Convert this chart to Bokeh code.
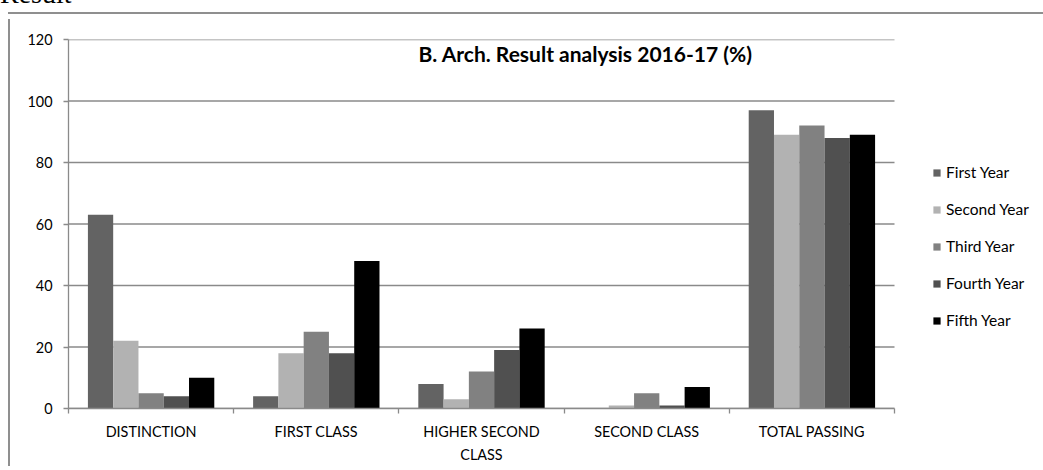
from bokeh.plotting import figure
from bokeh.models import FixedTicker, Legend, LegendItem, Label, Range1d, Div
from bokeh.layouts import column
from bokeh.embed import file_html
from bokeh.resources import INLINE

categories = ["DISTINCTION", "FIRST CLASS", "HIGHER SECOND\nCLASS", "SECOND CLASS", "TOTAL PASSING"]
series_names = ["First Year", "Second Year", "Third Year", "Fourth Year", "Fifth Year"]
first_year = [63, 4, 8, 0, 97]
second_year = [22, 18, 3, 1, 89]
third_year = [5, 25, 12, 5, 92]
fourth_year = [4, 18, 19, 1, 88]
fifth_year = [10, 48, 26, 7, 89]
series_values = [first_year, second_year, third_year, fourth_year, fifth_year]
series_colors = ["#636363", "#b2b2b2", "#818181", "#505050", "#000000"]
y_ticks = [0, 20, 40, 60, 80, 100, 120]
title_text = "B. Arch. Result analysis 2016-17 (%)"
heading_text = "Result"

FONT = "Lato"
GRAY = "#8a8a8a"
LBL = "14.4px"

ncat = len(categories)
W, H = 1030, 447
ML, MR, MT, MB = 58, 0, 20, 58
frame_w = W - ML - MR
cat_px = 826.0 / ncat          # pixel width of one category
x_end = frame_w / cat_px       # extra room on the right for the legend

p = figure(width=W, height=H, output_backend="svg", toolbar_location=None,
           x_range=Range1d(0, x_end), y_range=Range1d(0, 120),
           min_border_left=ML, min_border_right=MR, min_border_top=MT, min_border_bottom=MB)
p.styles = {"border-left": "2px solid #8f8f8f", "margin-left": "8px"}
p.outline_line_color = None
p.background_fill_color = "white"
p.border_fill_color = "white"

# horizontal gridlines, only across the category area
p.xgrid.grid_line_color = None
p.ygrid.grid_line_color = None
p.segment(x0=[0] * len(y_ticks), x1=[ncat] * len(y_ticks), y0=y_ticks, y1=y_ticks,
          line_color=GRAY, line_width=1.3)

n = len(series_names)
bw = 0.153
items = []
for k, (name, vals, col) in enumerate(zip(series_names, series_values, series_colors)):
    xs = [i + 0.5 + (k - (n - 1) / 2) * bw for i in range(ncat)]
    r = p.vbar(x=xs, top=vals, bottom=0, width=bw, fill_color=col, line_color=None)
    items.append(LegendItem(label=name, renderers=[r]))

# axes
p.xaxis.bounds = (0, ncat)
p.xaxis.ticker = FixedTicker(ticks=[i + 0.5 for i in range(ncat)],
                             minor_ticks=list(range(ncat + 1)))
p.xaxis.major_label_overrides = {i + 0.5: c for i, c in enumerate(categories)}
p.xaxis.major_tick_line_color = None
p.xaxis.major_tick_out = 0
p.xaxis.major_tick_in = 0
p.xaxis.minor_tick_line_color = GRAY
p.xaxis.minor_tick_line_width = 1.3
p.xaxis.minor_tick_out = 5
p.xaxis.minor_tick_in = 0
p.xaxis.axis_line_color = GRAY
p.xaxis.axis_line_width = 1.3
p.xaxis.major_label_standoff = 9
p.xaxis.major_label_text_font = FONT
p.xaxis.major_label_text_font_size = LBL
p.xaxis.major_label_text_color = "black"
p.xaxis.major_label_text_line_height = 1.4

p.yaxis.ticker = FixedTicker(ticks=y_ticks)
p.yaxis.axis_line_color = GRAY
p.yaxis.axis_line_width = 1.3
p.yaxis.major_tick_line_color = GRAY
p.yaxis.major_tick_line_width = 1.3
p.yaxis.major_tick_out = 5
p.yaxis.major_tick_in = 0
p.yaxis.minor_tick_line_color = None
p.yaxis.major_label_standoff = 11
p.yaxis.major_label_text_font = FONT
p.yaxis.major_label_text_font_size = LBL
p.yaxis.major_label_text_color = "black"

legend = Legend(items=items, location=(864, 78), orientation="vertical",
                glyph_width=9, glyph_height=9, label_standoff=5, spacing=17,
                padding=0, margin=0, border_line_color=None, background_fill_alpha=0,
                label_text_font=FONT, label_text_font_size="15.5px", label_text_color="black",
                label_height=20)
p.add_layout(legend)

title = Label(x=3.13, y=115.4, text=title_text, text_align="center", text_baseline="middle",
              text_font=FONT, text_font_style="bold", text_font_size="21px", text_color="black")
p.add_layout(title)

heading = Div(
    text=('<span style="position:relative; left:-8px; top:-25px; '
          'font-family:\'Liberation Serif\'; font-size:28px; line-height:28px;">'
          + heading_text + '</span>'),
    width=1035, height=9,
    styles={"margin-left": "8px", "border-bottom": "2px solid #8f8f8f",
            "overflow": "visible", "box-sizing": "border-box"})

layout = column(heading, p, spacing=0)
open("out.html", "w").write(file_html(layout, INLINE))
